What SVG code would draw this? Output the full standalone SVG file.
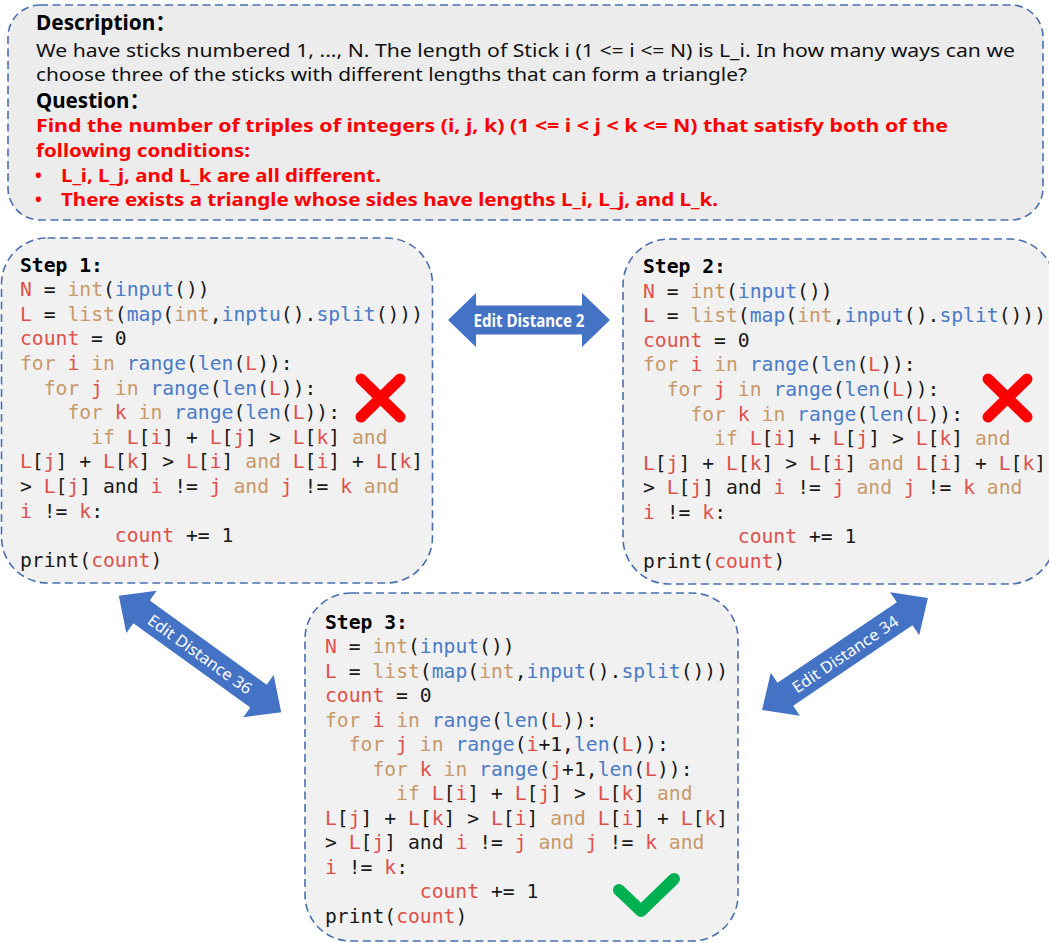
<svg xmlns="http://www.w3.org/2000/svg" width="1049" height="943" viewBox="0 0 1049 943">
<style>
.box{stroke:#4a6fb0;stroke-width:1.6;stroke-dasharray:8 4.5}
.desc{font-family:"Noto Sans","Liberation Sans","Noto Sans CJK SC",sans-serif;font-size:18px;fill:#111}
.hd{font-family:"Noto Sans","Liberation Sans","Noto Sans CJK SC",sans-serif;font-size:21px;font-weight:bold;fill:#000}
.red{font-family:"Noto Sans","Liberation Sans","Noto Sans CJK SC",sans-serif;font-size:18px;font-weight:bold;fill:#ff0000}
.code{font-family:"DejaVu Sans Mono","Liberation Mono",monospace;font-size:19.7px;fill:#1a1a1a}
.code text{white-space:pre}
.sh{font-weight:bold;fill:#000}
.r{fill:#e0504a}
.t{fill:#c8996a}
.b{fill:#4a7bc8}
.arrow{fill:#4472c4}
.alab{font-family:"Noto Sans","Liberation Sans",sans-serif;font-size:16px;fill:#fff;text-anchor:middle}
.alab2{font-family:"Noto Sans","Liberation Sans",sans-serif;font-size:18px;font-weight:bold;fill:#fff;text-anchor:middle}
.x{stroke:#ff0000;stroke-width:11;stroke-linecap:round;fill:none}
.ok{stroke:#00b050;stroke-width:12;stroke-linecap:round;stroke-linejoin:round;fill:none}
</style>
<rect width="1049" height="943" fill="#ffffff"/>

<g id="description">
<rect class="box" x="8" y="5" width="1035" height="215" rx="32" fill="#ececec"/>
<text class="hd" x="36" y="30" textLength="140" lengthAdjust="spacingAndGlyphs">Description：</text>
<text class="desc" x="36" y="57" textLength="979" lengthAdjust="spacingAndGlyphs">We have sticks numbered 1, ..., N. The length of Stick i (1 &lt;= i &lt;= N) is L_i. In how many ways can we</text>
<text class="desc" x="36" y="81" textLength="711" lengthAdjust="spacingAndGlyphs">choose three of the sticks with different lengths that can form a triangle?</text>
<text class="hd" x="36" y="108" textLength="114" lengthAdjust="spacingAndGlyphs">Question：</text>
<text class="red" x="36" y="132" textLength="912" lengthAdjust="spacingAndGlyphs">Find the number of triples of integers (i, j, k) (1 &lt;= i &lt; j &lt; k &lt;= N) that satisfy both of the</text>
<text class="red" x="36" y="157" textLength="214" lengthAdjust="spacingAndGlyphs">following conditions:</text>
<text class="red" x="35" y="182">•</text>
<text class="red" x="61" y="182" textLength="320" lengthAdjust="spacingAndGlyphs">L_i, L_j, and L_k are all different.</text>
<text class="red" x="35" y="206">•</text>
<text class="red" x="61" y="206" textLength="657" lengthAdjust="spacingAndGlyphs">There exists a triangle whose sides have lengths L_i, L_j, and L_k.</text>
</g>

<g id="step1">
<rect class="box" x="1.5" y="238" width="431" height="345" rx="46" fill="#f1f1f1"/>
<g class="code">
<text x="20" y="271.7" class="sh">Step 1:</text>
<text x="20" y="296.3"><tspan class="r">N</tspan> = <tspan class="t">int</tspan>(<tspan class="b">input</tspan>())</text>
<text x="20" y="320.9"><tspan class="r">L</tspan> = <tspan class="t">list</tspan>(<tspan class="b">map</tspan>(<tspan class="t">int</tspan>,<tspan class="b">inptu</tspan>().<tspan class="b">split</tspan>()))</text>
<text x="20" y="345.4"><tspan class="r">count</tspan> = 0</text>
<text x="20" y="370.0"><tspan class="t">for</tspan> <tspan class="r">i</tspan> <tspan class="t">in</tspan> <tspan class="b">range</tspan>(<tspan class="b">len</tspan>(<tspan class="r">L</tspan>)):</text>
<text x="43.7" y="394.6"><tspan class="t">for</tspan> <tspan class="r">j</tspan> <tspan class="t">in</tspan> <tspan class="b">range</tspan>(<tspan class="b">len</tspan>(<tspan class="r">L</tspan>)):</text>
<text x="67.4" y="419.2"><tspan class="t">for</tspan> <tspan class="r">k</tspan> <tspan class="t">in</tspan> <tspan class="b">range</tspan>(<tspan class="b">len</tspan>(<tspan class="r">L</tspan>)):</text>
<text x="91.1" y="443.8"><tspan class="t">if</tspan> <tspan class="r">L</tspan>[<tspan class="r">i</tspan>] + <tspan class="r">L</tspan>[<tspan class="r">j</tspan>] &gt; <tspan class="r">L</tspan>[<tspan class="r">k</tspan>] <tspan class="t">and</tspan></text>
<text x="20" y="468.3"><tspan class="r">L</tspan>[<tspan class="r">j</tspan>] + <tspan class="r">L</tspan>[<tspan class="r">k</tspan>] &gt; <tspan class="r">L</tspan>[<tspan class="r">i</tspan>] <tspan class="t">and</tspan> <tspan class="r">L</tspan>[<tspan class="r">i</tspan>] + <tspan class="r">L</tspan>[<tspan class="r">k</tspan>]</text>
<text x="20" y="492.9">&gt; <tspan class="r">L</tspan>[<tspan class="r">j</tspan>] and <tspan class="r">i</tspan> != <tspan class="r">j</tspan> <tspan class="t">and</tspan> <tspan class="r">j</tspan> != <tspan class="r">k</tspan> <tspan class="t">and</tspan></text>
<text x="20" y="517.5"><tspan class="r">i</tspan> != <tspan class="r">k</tspan>:</text>
<text x="114.8" y="542.1"><tspan class="r">count</tspan> += 1</text>
<text x="20" y="566.7">print(<tspan class="r">count</tspan>)</text>
</g>
<path class="x" d="M361 379 L400 417 M400 379 L361 417"/>
</g>

<g id="step2">
<rect class="box" x="623" y="239" width="432" height="345" rx="46" fill="#f1f1f1"/>
<g class="code">
<text x="643" y="273" class="sh">Step 2:</text>
<text x="643" y="297.6"><tspan class="r">N</tspan> = <tspan class="t">int</tspan>(<tspan class="b">input</tspan>())</text>
<text x="643" y="322.2"><tspan class="r">L</tspan> = <tspan class="t">list</tspan>(<tspan class="b">map</tspan>(<tspan class="t">int</tspan>,<tspan class="b">input</tspan>().<tspan class="b">split</tspan>()))</text>
<text x="643" y="346.7"><tspan class="r">count</tspan> = 0</text>
<text x="643" y="371.3"><tspan class="t">for</tspan> <tspan class="r">i</tspan> <tspan class="t">in</tspan> <tspan class="b">range</tspan>(<tspan class="b">len</tspan>(<tspan class="r">L</tspan>)):</text>
<text x="666.7" y="395.9"><tspan class="t">for</tspan> <tspan class="r">j</tspan> <tspan class="t">in</tspan> <tspan class="b">range</tspan>(<tspan class="b">len</tspan>(<tspan class="r">L</tspan>)):</text>
<text x="690.4" y="420.5"><tspan class="t">for</tspan> <tspan class="r">k</tspan> <tspan class="t">in</tspan> <tspan class="b">range</tspan>(<tspan class="b">len</tspan>(<tspan class="r">L</tspan>)):</text>
<text x="714.1" y="445.1"><tspan class="t">if</tspan> <tspan class="r">L</tspan>[<tspan class="r">i</tspan>] + <tspan class="r">L</tspan>[<tspan class="r">j</tspan>] &gt; <tspan class="r">L</tspan>[<tspan class="r">k</tspan>] <tspan class="t">and</tspan></text>
<text x="643" y="469.6"><tspan class="r">L</tspan>[<tspan class="r">j</tspan>] + <tspan class="r">L</tspan>[<tspan class="r">k</tspan>] &gt; <tspan class="r">L</tspan>[<tspan class="r">i</tspan>] <tspan class="t">and</tspan> <tspan class="r">L</tspan>[<tspan class="r">i</tspan>] + <tspan class="r">L</tspan>[<tspan class="r">k</tspan>]</text>
<text x="643" y="494.2">&gt; <tspan class="r">L</tspan>[<tspan class="r">j</tspan>] and <tspan class="r">i</tspan> != <tspan class="r">j</tspan> <tspan class="t">and</tspan> <tspan class="r">j</tspan> != <tspan class="r">k</tspan> <tspan class="t">and</tspan></text>
<text x="643" y="518.8"><tspan class="r">i</tspan> != <tspan class="r">k</tspan>:</text>
<text x="737.8" y="543.4"><tspan class="r">count</tspan> += 1</text>
<text x="643" y="568">print(<tspan class="r">count</tspan>)</text>
</g>
<path class="x" d="M988 379 L1027 417 M1027 379 L988 417"/>
</g>

<g id="step3">
<rect class="box" x="305" y="593" width="433" height="348" rx="46" fill="#f1f1f1"/>
<g class="code">
<text x="325" y="628.5" class="sh">Step 3:</text>
<text x="325" y="653"><tspan class="r">N</tspan> = <tspan class="t">int</tspan>(<tspan class="b">input</tspan>())</text>
<text x="325" y="677.5"><tspan class="r">L</tspan> = <tspan class="t">list</tspan>(<tspan class="b">map</tspan>(<tspan class="t">int</tspan>,<tspan class="b">input</tspan>().<tspan class="b">split</tspan>()))</text>
<text x="325" y="702"><tspan class="r">count</tspan> = 0</text>
<text x="325" y="726.5"><tspan class="t">for</tspan> <tspan class="r">i</tspan> <tspan class="t">in</tspan> <tspan class="b">range</tspan>(<tspan class="b">len</tspan>(<tspan class="r">L</tspan>)):</text>
<text x="348.7" y="751"><tspan class="t">for</tspan> <tspan class="r">j</tspan> <tspan class="t">in</tspan> <tspan class="b">range</tspan>(<tspan class="r">i</tspan>+1,<tspan class="b">len</tspan>(<tspan class="r">L</tspan>)):</text>
<text x="372.4" y="775.5"><tspan class="t">for</tspan> <tspan class="r">k</tspan> <tspan class="t">in</tspan> <tspan class="b">range</tspan>(<tspan class="r">j</tspan>+1,<tspan class="b">len</tspan>(<tspan class="r">L</tspan>)):</text>
<text x="396.1" y="800"><tspan class="t">if</tspan> <tspan class="r">L</tspan>[<tspan class="r">i</tspan>] + <tspan class="r">L</tspan>[<tspan class="r">j</tspan>] &gt; <tspan class="r">L</tspan>[<tspan class="r">k</tspan>] <tspan class="t">and</tspan></text>
<text x="325" y="824.5"><tspan class="r">L</tspan>[<tspan class="r">j</tspan>] + <tspan class="r">L</tspan>[<tspan class="r">k</tspan>] &gt; <tspan class="r">L</tspan>[<tspan class="r">i</tspan>] <tspan class="t">and</tspan> <tspan class="r">L</tspan>[<tspan class="r">i</tspan>] + <tspan class="r">L</tspan>[<tspan class="r">k</tspan>]</text>
<text x="325" y="849">&gt; <tspan class="r">L</tspan>[<tspan class="r">j</tspan>] and <tspan class="r">i</tspan> != <tspan class="r">j</tspan> <tspan class="t">and</tspan> <tspan class="r">j</tspan> != <tspan class="r">k</tspan> <tspan class="t">and</tspan></text>
<text x="325" y="873.5"><tspan class="r">i</tspan> != <tspan class="r">k</tspan>:</text>
<text x="419.8" y="898"><tspan class="r">count</tspan> += 1</text>
<text x="325" y="922.5">print(<tspan class="r">count</tspan>)</text>
</g>
<path class="ok" d="M619 890 L641 911 L674 879"/>
</g>

<g id="connectors">
<g transform="translate(529 320)">
<path class="arrow" d="M-81 0 L-53 -27 L-53 -14.5 L53 -14.5 L53 -27 L81 0 L53 27 L53 14.5 L-53 14.5 L-53 27 Z"/>
<text class="alab2" x="0" y="6.5" textLength="111" lengthAdjust="spacingAndGlyphs">Edit Distance 2</text>
</g>
<g transform="translate(200 654) rotate(35.7)">
<path class="arrow" d="M-100 0 L-72 -26 L-72 -14 L72 -14 L72 -26 L100 0 L72 26 L72 14 L-72 14 L-72 26 Z"/>
<text class="alab" x="0" y="6" textLength="124" lengthAdjust="spacingAndGlyphs">Edit Distance 36</text>
</g>
<g transform="translate(845 654) rotate(-34)">
<path class="arrow" d="M-100 0 L-72 -26 L-72 -14 L72 -14 L72 -26 L100 0 L72 26 L72 14 L-72 14 L-72 26 Z"/>
<text class="alab" x="0" y="6" textLength="124" lengthAdjust="spacingAndGlyphs">Edit Distance 34</text>
</g>
</g>
</svg>
